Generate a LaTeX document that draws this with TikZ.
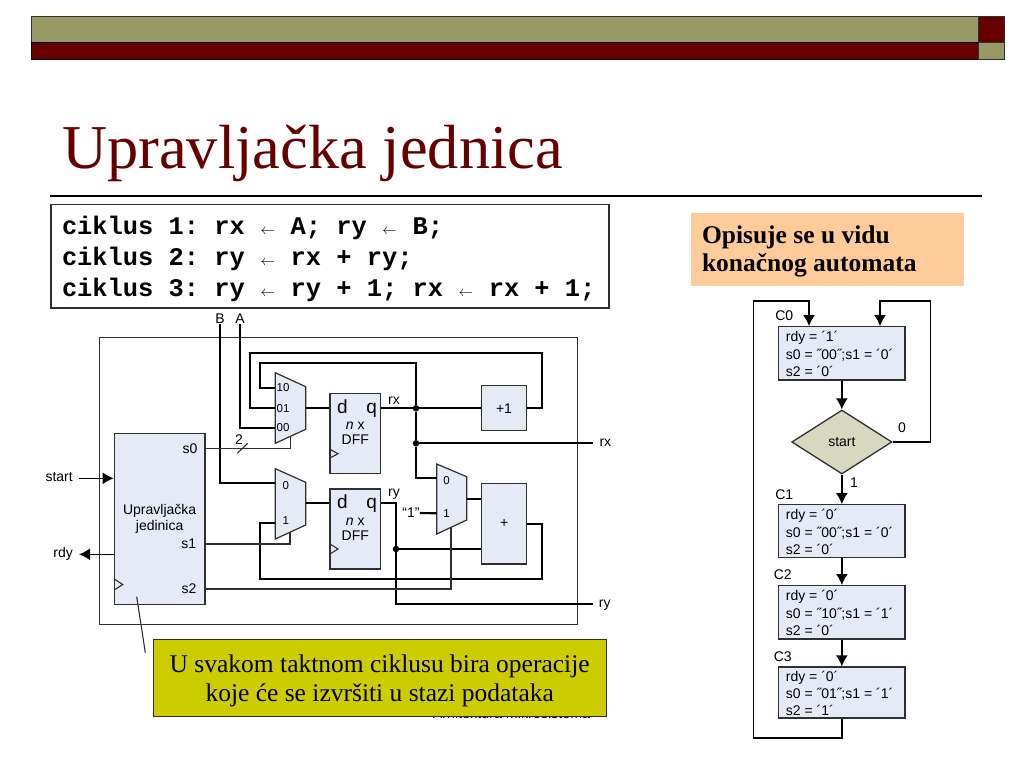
\documentclass[tikz,border=0pt]{standalone}
\usepackage{fontspec}
\setmainfont{Liberation Serif}
\setsansfont{Liberation Sans}
\setmonofont{Liberation Mono}
\usepackage{tikz}
\usetikzlibrary{shapes,arrows,arrows.meta,positioning,calc}

\definecolor{barolive}{HTML}{999966}
\definecolor{barred}{HTML}{660000}
\definecolor{boxblue}{HTML}{E6EAF6}
\definecolor{deciolive}{HTML}{D8D8C0}
\definecolor{noteyellow}{HTML}{CCCC00}
\definecolor{noteorange}{HTML}{FFCC99}
\definecolor{linegray}{HTML}{303030}

\newcommand{\larr}{\makebox[15.24pt]{\fontsize{15}{15}\selectfont$\leftarrow$}}
\newcommand{\fixspaces}{\spaceskip=15.24pt\relax\xspaceskip=15.24pt\relax}

\tikzset{
  block/.style={draw=linegray, line width=1.2pt, fill=boxblue, inner sep=0pt, align=center, font=\sffamily\fontsize{14}{15.5}\selectfont},
  muxbody/.style={draw=linegray, line width=1.2pt, fill=boxblue},
  wire/.style={line width=2.1pt, black},
  thinwire/.style={line width=1.1pt, linegray},
  label/.style={inner sep=0pt, font=\sffamily\fontsize{14}{14}\selectfont},
  pinlabel/.style={inner sep=0pt, font=\sffamily\fontsize{11.5}{12}\selectfont},
  portlabel/.style={inner sep=6pt, text height=8pt, text depth=2pt, font=\sffamily\fontsize{14}{14}\selectfont},
  bigletter/.style={inner sep=0pt, anchor=base, font=\sffamily\fontsize{19}{19}\selectfont},
  junction/.style={circle, fill=black, inner sep=0pt, minimum size=6.5pt},
  arrowline/.style={line width=1.4pt, black, -{Latex[length=11pt,width=12pt]}},
  statebox/.style={draw=linegray, line width=1.3pt, fill=boxblue, minimum width=126.3pt, inner sep=0pt, text width=112pt, text height=12pt, align=flush left, font=\sffamily\fontsize{14}{17.3}\selectfont},
}

\begin{document}
\begin{tikzpicture}[x=1pt, y=-1pt]
\useasboundingbox (0,0) rectangle (1024,768);

% Header bars
\draw[fill=barolive, draw=linegray] (31,16.7) rectangle (978,42.3);
\draw[fill=barred, draw=black] (31,42.3) rectangle (978,58.7);
\draw[fill=barred, draw=linegray] (978,16.7) rectangle (1004,42.3);
\draw[fill=barolive, draw=linegray] (978,42.3) rectangle (1004,58.7);

% Title
\node[anchor=base west, inner sep=0pt, text=barred, font=\fontsize{62.4}{62.4}\selectfont] (title) at (62,168) {Upravljačka jednica};
\draw[line width=1.3pt, black] (50,196) -- (982,196);

% Cycles
\node[draw=linegray, line width=1.2pt, minimum width=558pt, minimum height=103.7pt, inner sep=0pt, text width=536pt, text height=23pt, align=flush left,
  font=\ttfamily\bfseries\fontsize{25.4}{31}\selectfont, execute at begin node=\fixspaces] (cycles) at (330,256.2)
  {ciklus 1: rx \larr{} A; ry \larr{} B;\\ciklus 2: ry \larr{} rx + ry;\\ciklus 3: ry \larr{} ry + 1; rx \larr{} rx + 1;};

% Note right
\node[fill=noteorange, minimum width=273pt, minimum height=73pt, inner sep=0pt, text width=251pt, text height=21pt, align=flush left,
  font=\bfseries\fontsize{25.5}{28}\selectfont] (noteauto) at (827.5,249.5) {Opisuje se u vidu\\konačnog automata};

% Footer under the note
\node[inner sep=0pt, font=\sffamily\fontsize{14.3}{14.3}\selectfont] (footer) at (511.5,713) {Arhitektura mikrosistema};

% Outer frame
\node[draw=linegray, line width=1.2pt, minimum width=478pt, minimum height=286.6pt, inner sep=0pt] (frame) at (338.3,481) {};

% Blocks
\node[block, minimum width=90.7pt, minimum height=171pt] (ctrl) at (159.65,518.8) {Upravljačka\\jedinica};
\node[block, minimum width=50.7pt, minimum height=80pt] (dffx) at (355.3,433.3) {\textit{n} x\\DFF};
\node[block, minimum width=50.7pt, minimum height=80pt] (dffy) at (355.3,529) {\textit{n} x\\DFF};
\node[block, minimum width=45.4pt, minimum height=45pt] (plusone) at (504,408.3) {+1};
\node[block, minimum width=45pt, minimum height=80.3pt] (adder) at (504.2,523.8) {+};

% Multiplexers
\draw[muxbody] (275.3,372.7) -- (305.7,386.7) -- (305.7,429.3) -- (275.3,443.3) -- cycle;
\draw[muxbody] (275.3,468.7) -- (305.7,482.3) -- (305.7,525) -- (275.3,539) -- cycle;
\draw[muxbody] (436.7,464) -- (466.7,476.7) -- (466.7,520) -- (436.7,534) -- cycle;
\coordinate (mxa10) at (275.3,388);
\coordinate (mxa01) at (275.3,408.3);
\coordinate (mxa00) at (275.3,428);
\coordinate (mxaout) at (305.7,408.3);
\coordinate (mxasel) at (290.7,436.2);
\coordinate (mxb0) at (275.3,483.3);
\coordinate (mxb1) at (275.3,523.3);
\coordinate (mxbout) at (305.7,503.3);
\coordinate (mxbsel) at (290,532.2);
\coordinate (mxc0) at (436.7,478.3);
\coordinate (mxc1) at (436.7,513.3);
\coordinate (mxcout) at (466.7,498.7);
\coordinate (mxcsel) at (451,527.3);

% Pin labels
\node[pinlabel] (pa10) at (283,388) {10};
\node[pinlabel] (pa01) at (283,408.3) {01};
\node[pinlabel] (pa00) at (283,428) {00};
\node[pinlabel] (pb0) at (285.7,485.7) {0};
\node[pinlabel] (pb1) at (285.7,521) {1};
\node[pinlabel] (pc0) at (446.5,480.5) {0};
\node[pinlabel] (pc1) at (446.5,513.5) {1};

% Block letters
\node[bigletter] (dx) at (342.3,413) {d};
\node[bigletter] (qx) at (371.7,413) {q};
\node[bigletter] (dy) at (342.3,508.3) {d};
\node[bigletter] (qy) at (371.7,508.3) {q};
\node[label, anchor=east] (ls0) at (197.7,448.3) {s0};
\node[label, anchor=east] (ls1) at (196.3,544) {s1};
\node[label, anchor=east] (ls2) at (196.7,589) {s2};

% Clock marks
\draw[thinwire] (330,449.3) -- (338,453.7) -- (330,458);
\draw[thinwire] (330,544) -- (338,549) -- (330,554);
\draw[thinwire] (114.3,579) -- (122.7,584.5) -- (114.3,590);

% Outside labels
\node[label] (lblB) at (220,318.5) {B};
\node[label] (lblA) at (240,318.5) {A};
\node[portlabel, anchor=east] (lblstart) at (79,478.3) {start};
\node[portlabel, anchor=east] (lblrdy) at (79,554.3) {rdy};
\node[portlabel, anchor=west] (lblrx) at (593.3,443.3) {rx};
\node[portlabel, anchor=west] (lblry) at (592.7,604.3) {ry};
\node[label] (lblqx) at (394,400.5) {rx};
\node[label] (lblqy) at (394,494) {ry};
\node[label] (lblone) at (411,513) {“1”};
\node[label] (lbltwo) at (239,440) {2};

% Junctions
\node[junction] (jrx) at (416,408.3) {};
\node[junction] (jout) at (416,443.3) {};
\node[junction] (jry) at (396,549) {};
\coordinate (qybend) at (396,503.3);

% Data wires
\draw[wire] (lblA.south) |- (mxa00);
\draw[wire] (lblB.south) |- (mxb0);
\draw[wire] (plusone.east) -- (541.7,408.3) |- (250,352.7) |- (mxa01);
\draw[wire] (jrx) |- (260,363.3) |- (mxa10);
\draw[wire] (jrx) -- (jout);
\draw[wire] (jout) |- (mxc0);
\draw[wire] (mxaout) -- (mxaout -| dffx.west);
\draw[wire] (mxbout) -- (mxbout -| dffy.west);
\draw[wire] (jrx -| dffx.east) -- (jrx) -- (plusone.west);
\draw[wire] (jout) -- (lblrx.west);
\draw[wire] (mxcout) -- (mxcout -| adder.west);
\draw[wire] (lblone.east) -- (mxc1);
\draw[wire] (adder.east) -- (541.7,523.8) |- (260,579) |- (mxb1);
\draw[wire] (qybend -| dffy.east) -- (qybend) -- (jry);
\draw[wire] (jry) -- (jry -| adder.west);
\draw[wire] (jry) |- (lblry.west);

% Control wires
\draw[thinwire] (ls0 -| ctrl.east) -| (mxasel);
\draw[thinwire] (ls1 -| ctrl.east) -| (mxbsel);
\draw[thinwire] (ls2 -| ctrl.east) -| (mxcsel);
\draw[thinwire] (237.3,453.3) -- (247.7,443.3);
\draw[arrowline] (lblstart.east) -- (lblstart.east -| ctrl.west);
\draw[arrowline] (lblrdy.east -| ctrl.west) -- (lblrdy.east);

% Yellow note
\coordinate (calloutfoot) at (136.7,596.7);
\coordinate (callouthead) at (145.3,652.7);
\draw[thinwire] (calloutfoot) -- (callouthead);
\node[draw=linegray, line width=1pt, fill=noteyellow, minimum width=452.7pt, minimum height=76.7pt, inner sep=0pt, text width=450pt, text height=22.5pt, align=flush center,
  font=\fontsize{25.5}{29}\selectfont] (notecycle) at (379.7,678.3) {U svakom taktnom ciklusu bira operacije\\koje će se izvršiti u stazi podataka};

% State chart
\node[statebox, minimum height=53.3pt] (st0) at (841.85,353.35) {rdy = ´1´\\s0 = ˝00˝;s1 = ´0´\\s2 = ´0´};
\node[draw=linegray, line width=1.3pt, fill=deciolive, diamond, aspect=1.567, minimum width=100.3pt, minimum height=64pt, inner sep=0pt, font=\sffamily\fontsize{14}{14}\selectfont] (dec) at (841.85,442) {start};
\node[statebox, minimum height=53pt] (st1) at (841.85,531.2) {rdy = ´0´\\s0 = ˝00˝;s1 = ´0´\\s2 = ´0´};
\node[statebox, minimum height=53.3pt] (st2) at (841.85,612.35) {rdy = ´0´\\s0 = ˝10˝;s1 = ´1´\\s2 = ´0´};
\node[statebox, minimum height=51pt] (st3) at (841.85,692.5) {rdy = ´0´\\s0 = ˝01˝;s1 = ´1´\\s2 = ´1´};

\node[label] (cc0) at (784.3,315.7) {C0};
\node[label] (cc1) at (784.3,495) {C1};
\node[label] (cc2) at (782.7,575) {C2};
\node[label] (cc3) at (782.7,656.7) {C3};
\node[label] (no) at (902,428) {0};
\node[label] (yes) at (854,483) {1};

\coordinate (loopa) at (880,301);
\coordinate (loopb) at (809,301);
\draw[arrowline] (st0.south) -- (dec.north);
\draw[arrowline] (dec.south) -- (st1.north);
\draw[arrowline] (st1.south) -- (st2.north);
\draw[arrowline] (st2.south) -- (st3.north);
\draw[arrowline] (dec.east) -| (930.3,301) -- (loopa) -- (loopa |- st0.north);
\draw[arrowline] (st3.south) |- (753.7,738) |- (loopb) -- (loopb |- st0.north);

\end{tikzpicture}
\end{document}
